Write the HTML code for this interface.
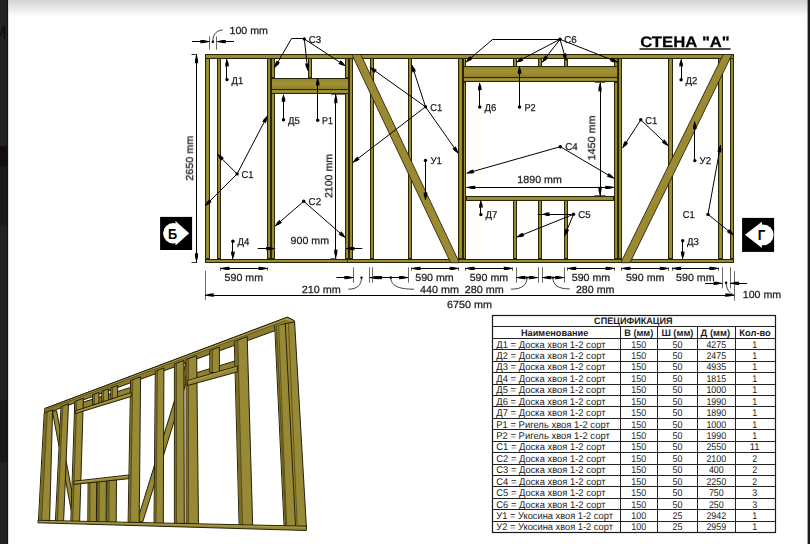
<!DOCTYPE html><html><head><meta charset="utf-8"><style>html,body{margin:0;padding:0;background:#fff;}body{width:810px;height:544px;overflow:hidden;}</style></head><body><svg width="810" height="544" viewBox="0 0 810 544" style="display:block;font-family:'Liberation Sans', sans-serif;text-rendering:geometricPrecision">
<defs><linearGradient id="tg" x1="0" y1="0" x2="0" y2="1"><stop offset="0" stop-color="#d4d4d4"/><stop offset="1" stop-color="#ffffff"/></linearGradient><filter id="gray" x="-5%" y="-20%" width="110%" height="140%"><feColorMatrix type="saturate" values="0"/></filter><linearGradient id="gv" x1="0" y1="0" x2="1" y2="0"><stop offset="0" stop-color="#8a7c2a"/><stop offset="0.5" stop-color="#a09233"/><stop offset="1" stop-color="#948630"/></linearGradient><linearGradient id="gh" x1="0" y1="0" x2="0" y2="1"><stop offset="0" stop-color="#94862e"/><stop offset="0.5" stop-color="#a09233"/><stop offset="1" stop-color="#8e802b"/></linearGradient></defs>
<rect x="0" y="0" width="810" height="544" fill="#fff"/>
<rect x="0" y="0" width="810" height="17" fill="url(#tg)"/>
<rect x="0" y="0" width="8" height="544" fill="#222"/>
<rect x="0" y="146" width="7" height="20" fill="#150d0b"/>
<rect x="0" y="166" width="7" height="60" fill="#1b1b1e"/>
<rect x="0" y="400" width="7" height="62" fill="#171717"/>
<rect x="7" y="0" width="1" height="544" fill="#111"/>
<path d="M0.2,35.5 L3.6,26.8 L4.4,26.8 L4.4,39" fill="none" stroke="#0b0b0b" stroke-width="1.3"/>
<rect x="8" y="0" width="1" height="544" fill="#bbb" opacity="0.5"/>
<rect x="807.6" y="0" width="2.4" height="544" fill="#1a1a1a"/>
<rect x="205" y="58" width="5" height="201" fill="#2b2608"/>
<rect x="206" y="59" width="3" height="199" fill="url(#gv)"/>
<rect x="217" y="58" width="4" height="201" fill="#2b2608"/>
<rect x="218" y="59" width="2" height="199" fill="url(#gv)"/>
<rect x="267" y="58" width="4" height="201" fill="#2b2608"/>
<rect x="268" y="59" width="2" height="199" fill="url(#gv)"/>
<rect x="349" y="58" width="4" height="201" fill="#2b2608"/>
<rect x="350" y="59" width="2" height="199" fill="url(#gv)"/>
<rect x="370" y="58" width="4" height="201" fill="#2b2608"/>
<rect x="371" y="59" width="2" height="199" fill="url(#gv)"/>
<rect x="408" y="58" width="4" height="201" fill="#2b2608"/>
<rect x="409" y="59" width="2" height="199" fill="url(#gv)"/>
<rect x="458" y="58" width="5" height="201" fill="#2b2608"/>
<rect x="459" y="59" width="3" height="199" fill="url(#gv)"/>
<rect x="618" y="58" width="4" height="201" fill="#2b2608"/>
<rect x="619" y="59" width="2" height="199" fill="url(#gv)"/>
<rect x="668" y="58" width="5" height="201" fill="#2b2608"/>
<rect x="669" y="59" width="3" height="199" fill="url(#gv)"/>
<rect x="718" y="58" width="5" height="201" fill="#2b2608"/>
<rect x="719" y="59" width="3" height="199" fill="url(#gv)"/>
<rect x="730" y="58" width="4" height="201" fill="#2b2608"/>
<rect x="731" y="59" width="2" height="199" fill="url(#gv)"/>
<rect x="271" y="93" width="4" height="166" fill="#2b2608"/>
<rect x="272" y="94" width="2" height="164" fill="url(#gv)"/>
<rect x="271" y="58" width="4" height="20" fill="#2b2608"/>
<rect x="272" y="59" width="2" height="18" fill="url(#gv)"/>
<rect x="345" y="93" width="4" height="166" fill="#2b2608"/>
<rect x="346" y="94" width="2" height="164" fill="url(#gv)"/>
<rect x="345" y="58" width="4" height="20" fill="#2b2608"/>
<rect x="346" y="59" width="2" height="18" fill="url(#gv)"/>
<rect x="308" y="58" width="4" height="20" fill="#2b2608"/>
<rect x="309" y="59" width="2" height="18" fill="url(#gv)"/>
<rect x="271" y="78" width="78" height="12" fill="#2b2608"/>
<rect x="272" y="79" width="76" height="10" fill="url(#gh)"/>
<rect x="271" y="89" width="78" height="5" fill="#2b2608"/>
<rect x="272" y="90" width="76" height="3" fill="url(#gh)"/>
<rect x="463" y="82" width="3" height="177" fill="#2b2608"/>
<rect x="464" y="83" width="1" height="175" fill="url(#gv)"/>
<rect x="463" y="58" width="3" height="9" fill="#2b2608"/>
<rect x="464" y="59" width="1" height="7" fill="url(#gv)"/>
<rect x="614" y="82" width="4" height="177" fill="#2b2608"/>
<rect x="615" y="83" width="2" height="175" fill="url(#gv)"/>
<rect x="614" y="58" width="4" height="9" fill="#2b2608"/>
<rect x="615" y="59" width="2" height="7" fill="url(#gv)"/>
<rect x="513" y="58" width="4" height="9" fill="#2b2608"/>
<rect x="514" y="59" width="2" height="7" fill="url(#gv)"/>
<rect x="513" y="200" width="4" height="59" fill="#2b2608"/>
<rect x="514" y="201" width="2" height="57" fill="url(#gv)"/>
<rect x="538" y="58" width="4" height="9" fill="#2b2608"/>
<rect x="539" y="59" width="2" height="7" fill="url(#gv)"/>
<rect x="538" y="200" width="4" height="59" fill="#2b2608"/>
<rect x="539" y="201" width="2" height="57" fill="url(#gv)"/>
<rect x="564" y="58" width="4" height="9" fill="#2b2608"/>
<rect x="565" y="59" width="2" height="7" fill="url(#gv)"/>
<rect x="564" y="200" width="4" height="59" fill="#2b2608"/>
<rect x="565" y="201" width="2" height="57" fill="url(#gv)"/>
<rect x="463" y="66" width="155" height="12" fill="#2b2608"/>
<rect x="464" y="67" width="153" height="10" fill="url(#gh)"/>
<rect x="463" y="77" width="155" height="5" fill="#2b2608"/>
<rect x="464" y="78" width="153" height="3" fill="url(#gh)"/>
<rect x="466" y="196" width="148" height="5" fill="#2b2608"/>
<rect x="467" y="197" width="146" height="3" fill="url(#gh)"/>
<rect x="205" y="54" width="529" height="5" fill="#2b2608"/>
<rect x="206" y="55" width="527" height="3" fill="url(#gh)"/>
<rect x="205" y="259" width="529" height="4" fill="#2b2608"/>
<rect x="206" y="260" width="527" height="2" fill="url(#gh)"/>
<line x1="347.5" y1="259" x2="347.5" y2="263" stroke="#2b2608" stroke-width="0.8"/>
<polygon points="351.9,54.5 360.8,54.5 459.4,262.7 450.6,262.7" fill="#9a8b33" stroke="#2b2608" stroke-width="0.9" stroke-linejoin="round" />
<polygon points="723.2,54.5 732,54.5 630,262.7 620.8,262.7" fill="#9a8b33" stroke="#2b2608" stroke-width="0.9" stroke-linejoin="round" />
<circle cx="227" cy="79.6" r="1.7" fill="#000"/>
<line x1="226.5" y1="79.6" x2="226.5" y2="59.2" stroke="#000" stroke-width="1.0"/>
<polygon points="227,59 227.55,60.33 228.71,63.7 228.8,66.7 227,66.1 225.2,66.7 225.29,63.7 226.45,60.33" fill="#000"/>
<text x="231.6" y="84" font-size="10.0" font-weight="normal" text-anchor="start" fill="#1a1a1a" textLength="11.5" lengthAdjust="spacingAndGlyphs"  filter="url(#gray)" stroke="#1a1a1a" stroke-width="0.25">Д1</text>
<circle cx="304.3" cy="38.9" r="1.7" fill="#000"/>
<line x1="304.3" y1="38.5" x2="291.3" y2="38.5" stroke="#000" stroke-width="1.0"/>
<line x1="291.3" y1="38.9" x2="274.6" y2="67.8" stroke="#000" stroke-width="1.0"/>
<polygon points="274.5,67.97 274.69,66.55 275.37,63.05 276.79,60.41 278.05,61.83 279.91,62.21 278.33,64.76 275.64,67.1" fill="#000"/>
<line x1="304.3" y1="38.9" x2="307.8" y2="70.6" stroke="#000" stroke-width="1.0"/>
<polygon points="307.82,70.8 307.13,69.54 305.61,66.31 305.19,63.34 307.04,63.74 308.77,62.95 309.01,65.94 308.22,69.42" fill="#000"/>
<line x1="304.3" y1="38.9" x2="345.5" y2="66" stroke="#000" stroke-width="1.0"/>
<polygon points="345.67,66.11 344.26,65.84 340.8,64.96 338.24,63.38 339.74,62.21 340.22,60.37 342.68,62.1 344.86,64.92" fill="#000"/>
<text x="308.7" y="42.8" font-size="10.0" font-weight="normal" text-anchor="start" fill="#1a1a1a" textLength="12.5" lengthAdjust="spacingAndGlyphs"  filter="url(#gray)" stroke="#1a1a1a" stroke-width="0.25">C3</text>
<circle cx="283.5" cy="119.8" r="1.7" fill="#000"/>
<line x1="283.5" y1="119.8" x2="283.5" y2="94.6" stroke="#000" stroke-width="1.0"/>
<polygon points="283.5,94.4 284.05,95.72 285.21,99.1 285.3,102.1 283.5,101.5 281.7,102.1 281.79,99.1 282.95,95.72" fill="#000"/>
<text x="288" y="123.7" font-size="10.0" font-weight="normal" text-anchor="start" fill="#1a1a1a" textLength="11.8" lengthAdjust="spacingAndGlyphs"  filter="url(#gray)" stroke="#1a1a1a" stroke-width="0.25">Д5</text>
<circle cx="317.7" cy="120.2" r="1.7" fill="#000"/>
<line x1="317.5" y1="120.2" x2="317.5" y2="78.2" stroke="#000" stroke-width="1.0"/>
<polygon points="317.7,78 318.25,79.33 319.41,82.7 319.5,85.7 317.7,85.1 315.9,85.7 315.99,82.7 317.15,79.33" fill="#000"/>
<text x="322.1" y="123.7" font-size="10.0" font-weight="normal" text-anchor="start" fill="#1a1a1a" textLength="10.8" lengthAdjust="spacingAndGlyphs"  filter="url(#gray)" stroke="#1a1a1a" stroke-width="0.25">P1</text>
<circle cx="237.1" cy="173.9" r="1.7" fill="#000"/>
<line x1="237.1" y1="173.9" x2="267.3" y2="116" stroke="#000" stroke-width="1.0"/>
<polygon points="267.39,115.82 267.27,117.25 266.74,120.78 265.43,123.48 264.11,122.12 262.24,121.82 263.7,119.2 266.29,116.74" fill="#000"/>
<line x1="237.1" y1="173.9" x2="217.4" y2="154.2" stroke="#000" stroke-width="1.0"/>
<polygon points="217.26,154.06 218.58,154.61 221.79,156.17 223.98,158.23 222.28,159.08 221.43,160.78 219.37,158.59 217.81,155.38" fill="#000"/>
<line x1="237.1" y1="173.9" x2="205.2" y2="205.8" stroke="#000" stroke-width="1.0"/>
<polygon points="205.06,205.94 205.61,204.62 207.17,201.41 209.23,199.22 210.08,200.92 211.78,201.77 209.59,203.83 206.38,205.39" fill="#000"/>
<text x="241.6" y="177.7" font-size="10.0" font-weight="normal" text-anchor="start" fill="#1a1a1a" textLength="12" lengthAdjust="spacingAndGlyphs"  filter="url(#gray)" stroke="#1a1a1a" stroke-width="0.25">C1</text>
<circle cx="303.7" cy="201.3" r="1.7" fill="#000"/>
<line x1="303.7" y1="201.3" x2="275.2" y2="226" stroke="#000" stroke-width="1.0"/>
<polygon points="275.05,226.13 275.69,224.85 277.48,221.76 279.69,219.73 280.41,221.48 282.05,222.45 279.72,224.35 276.41,225.68" fill="#000"/>
<line x1="303.7" y1="201.3" x2="345.3" y2="237.6" stroke="#000" stroke-width="1.0"/>
<polygon points="345.45,237.73 344.09,237.27 340.79,235.93 338.47,234.03 340.1,233.06 340.83,231.31 343.03,233.35 344.81,236.45" fill="#000"/>
<text x="308.6" y="204.6" font-size="10.0" font-weight="normal" text-anchor="start" fill="#1a1a1a" textLength="12.5" lengthAdjust="spacingAndGlyphs"  filter="url(#gray)" stroke="#1a1a1a" stroke-width="0.25">C2</text>
<circle cx="425.5" cy="106.8" r="1.7" fill="#000"/>
<line x1="425.5" y1="106.8" x2="369.8" y2="67.2" stroke="#000" stroke-width="1.0"/>
<polygon points="369.64,67.08 371.04,67.4 374.46,68.41 376.96,70.08 375.42,71.2 374.87,73.01 372.48,71.2 370.4,68.3" fill="#000"/>
<line x1="425.5" y1="106.8" x2="411.9" y2="65" stroke="#000" stroke-width="1.0"/>
<polygon points="411.84,64.81 412.77,65.9 414.92,68.75 415.93,71.58 414.03,71.56 412.51,72.69 411.67,69.81 411.73,66.24" fill="#000"/>
<line x1="425.5" y1="106.8" x2="458.2" y2="153.4" stroke="#000" stroke-width="1.0"/>
<polygon points="458.31,153.56 457.1,152.8 454.22,150.7 452.42,148.29 454.24,147.75 455.37,146.23 457.01,148.73 458,152.16" fill="#000"/>
<line x1="425.5" y1="106.8" x2="352.8" y2="162.5" stroke="#000" stroke-width="1.0"/>
<polygon points="352.64,162.62 353.36,161.38 355.33,158.41 357.66,156.51 358.28,158.3 359.85,159.37 357.41,161.12 354.03,162.25" fill="#000"/>
<text x="430.2" y="110.6" font-size="10.0" font-weight="normal" text-anchor="start" fill="#1a1a1a" textLength="12" lengthAdjust="spacingAndGlyphs"  filter="url(#gray)" stroke="#1a1a1a" stroke-width="0.25">C1</text>
<circle cx="425.5" cy="160.4" r="1.7" fill="#000"/>
<line x1="425.5" y1="160.4" x2="425.5" y2="199.8" stroke="#000" stroke-width="1.0"/>
<polygon points="425.5,200 424.95,198.68 423.79,195.3 423.7,192.3 425.5,192.9 427.3,192.3 427.21,195.3 426.05,198.68" fill="#000"/>
<text x="430.4" y="163.8" font-size="10.0" font-weight="normal" text-anchor="start" fill="#1a1a1a" textLength="11.5" lengthAdjust="spacingAndGlyphs"  filter="url(#gray)" stroke="#1a1a1a" stroke-width="0.25">У1</text>
<circle cx="479.8" cy="107" r="1.7" fill="#000"/>
<line x1="479.5" y1="107" x2="479.5" y2="82.9" stroke="#000" stroke-width="1.0"/>
<polygon points="479.8,82.7 480.35,84.03 481.51,87.4 481.6,90.4 479.8,89.8 478,90.4 478.09,87.4 479.25,84.03" fill="#000"/>
<text x="484.6" y="111" font-size="10.0" font-weight="normal" text-anchor="start" fill="#1a1a1a" textLength="11.8" lengthAdjust="spacingAndGlyphs"  filter="url(#gray)" stroke="#1a1a1a" stroke-width="0.25">Д6</text>
<circle cx="519.5" cy="107" r="1.7" fill="#000"/>
<line x1="519.5" y1="107" x2="519.5" y2="66.6" stroke="#000" stroke-width="1.0"/>
<polygon points="519.5,66.4 520.05,67.72 521.21,71.1 521.3,74.1 519.5,73.5 517.7,74.1 517.79,71.1 518.95,67.72" fill="#000"/>
<text x="524.5" y="111" font-size="10.0" font-weight="normal" text-anchor="start" fill="#1a1a1a" textLength="11.2" lengthAdjust="spacingAndGlyphs"  filter="url(#gray)" stroke="#1a1a1a" stroke-width="0.25">P2</text>
<circle cx="560" cy="39.3" r="1.7" fill="#000"/>
<line x1="560" y1="39.5" x2="492.8" y2="39.5" stroke="#000" stroke-width="1.0"/>
<line x1="492.8" y1="39.3" x2="465.8" y2="62.2" stroke="#000" stroke-width="1.0"/>
<polygon points="465.65,62.33 466.3,61.05 468.13,57.99 470.36,55.98 471.06,57.74 472.68,58.72 470.34,60.59 467.01,61.89" fill="#000"/>
<line x1="560" y1="39.3" x2="516.2" y2="62.2" stroke="#000" stroke-width="1.0"/>
<polygon points="516.02,62.29 516.94,61.19 519.4,58.6 522.01,57.13 522.31,59 523.68,60.32 520.98,61.63 517.45,62.17" fill="#000"/>
<line x1="560" y1="39.3" x2="542.2" y2="62.4" stroke="#000" stroke-width="1.0"/>
<polygon points="542.08,62.56 542.45,61.17 543.59,57.79 545.35,55.36 546.41,56.93 548.2,57.56 546.3,59.88 543.32,61.84" fill="#000"/>
<line x1="560" y1="39.3" x2="566.2" y2="60.6" stroke="#000" stroke-width="1.0"/>
<polygon points="566.26,60.79 565.36,59.67 563.3,56.76 562.38,53.9 564.27,53.97 565.83,52.9 566.58,55.8 566.41,59.37" fill="#000"/>
<line x1="560" y1="39.3" x2="617.6" y2="62.2" stroke="#000" stroke-width="1.0"/>
<polygon points="617.79,62.27 616.35,62.3 612.79,62.13 609.97,61.1 611.19,59.65 611.3,57.76 614.05,58.95 616.76,61.27" fill="#000"/>
<text x="564.3" y="43.1" font-size="10.0" font-weight="normal" text-anchor="start" fill="#1a1a1a" textLength="12.5" lengthAdjust="spacingAndGlyphs"  filter="url(#gray)" stroke="#1a1a1a" stroke-width="0.25">C6</text>
<circle cx="560.3" cy="146.7" r="1.7" fill="#000"/>
<line x1="560.3" y1="146.7" x2="466.8" y2="173.2" stroke="#000" stroke-width="1.0"/>
<polygon points="466.61,173.25 467.73,172.36 470.66,170.33 473.52,169.42 473.44,171.32 474.51,172.89 471.6,173.62 468.03,173.42" fill="#000"/>
<line x1="560.3" y1="146.7" x2="614" y2="178.4" stroke="#000" stroke-width="1.0"/>
<polygon points="614.17,178.5 612.75,178.3 609.26,177.58 606.63,176.14 608.06,174.89 608.46,173.04 610.99,174.64 613.31,177.35" fill="#000"/>
<text x="565.2" y="150.4" font-size="10.0" font-weight="normal" text-anchor="start" fill="#1a1a1a" textLength="12.5" lengthAdjust="spacingAndGlyphs"  filter="url(#gray)" stroke="#1a1a1a" stroke-width="0.25">C4</text>
<circle cx="480.9" cy="214.6" r="1.7" fill="#000"/>
<line x1="480.5" y1="214.6" x2="480.5" y2="200.4" stroke="#000" stroke-width="1.0"/>
<polygon points="480.9,200.2 481.45,201.53 482.61,204.9 482.7,207.9 480.9,207.3 479.1,207.9 479.19,204.9 480.35,201.53" fill="#000"/>
<text x="485.6" y="217.8" font-size="10.0" font-weight="normal" text-anchor="start" fill="#1a1a1a" textLength="11.8" lengthAdjust="spacingAndGlyphs"  filter="url(#gray)" stroke="#1a1a1a" stroke-width="0.25">Д7</text>
<circle cx="573.5" cy="214.3" r="1.7" fill="#000"/>
<line x1="573.5" y1="214.5" x2="537.8" y2="214.5" stroke="#000" stroke-width="1.0"/>
<polygon points="542.2,214.3 543.52,213.75 546.9,212.59 549.9,212.5 549.3,214.3 549.9,216.1 546.9,216.01 543.52,214.85" fill="#000"/>
<line x1="573.5" y1="214.3" x2="516.8" y2="237.1" stroke="#000" stroke-width="1.0"/>
<polygon points="516.61,237.17 517.64,236.17 520.34,233.83 523.09,232.63 523.2,234.53 524.43,235.97 521.61,237.01 518.05,237.19" fill="#000"/>
<line x1="573.5" y1="214.3" x2="564.6" y2="235.8" stroke="#000" stroke-width="1.0"/>
<polygon points="564.52,235.98 564.52,234.55 564.74,230.99 565.81,228.18 567.24,229.42 569.13,229.56 567.9,232.3 565.54,234.97" fill="#000"/>
<text x="578.2" y="218" font-size="10.0" font-weight="normal" text-anchor="start" fill="#1a1a1a" textLength="12.5" lengthAdjust="spacingAndGlyphs"  filter="url(#gray)" stroke="#1a1a1a" stroke-width="0.25">C5</text>
<circle cx="640.8" cy="119.8" r="1.7" fill="#000"/>
<line x1="640.8" y1="119.8" x2="622.6" y2="148" stroke="#000" stroke-width="1.0"/>
<polygon points="622.49,148.17 622.75,146.76 623.6,143.29 625.15,140.72 626.34,142.2 628.18,142.67 626.48,145.15 623.67,147.35" fill="#000"/>
<line x1="640.8" y1="119.8" x2="668.3" y2="145.8" stroke="#000" stroke-width="1.0"/>
<polygon points="668.45,145.94 667.1,145.43 663.86,143.95 661.61,141.96 663.29,141.06 664.09,139.34 666.2,141.47 667.86,144.63" fill="#000"/>
<text x="645.2" y="123.8" font-size="10.0" font-weight="normal" text-anchor="start" fill="#1a1a1a" textLength="12" lengthAdjust="spacingAndGlyphs"  filter="url(#gray)" stroke="#1a1a1a" stroke-width="0.25">C1</text>
<circle cx="681.1" cy="79.7" r="1.7" fill="#000"/>
<line x1="681.5" y1="79.7" x2="681.5" y2="59.2" stroke="#000" stroke-width="1.0"/>
<polygon points="681.1,59 681.65,60.33 682.81,63.7 682.9,66.7 681.1,66.1 679.3,66.7 679.39,63.7 680.55,60.33" fill="#000"/>
<text x="685.5" y="83.7" font-size="10.0" font-weight="normal" text-anchor="start" fill="#1a1a1a" textLength="11.8" lengthAdjust="spacingAndGlyphs"  filter="url(#gray)" stroke="#1a1a1a" stroke-width="0.25">Д2</text>
<circle cx="694.8" cy="160.6" r="1.7" fill="#000"/>
<line x1="694.5" y1="160.6" x2="694.5" y2="121.6" stroke="#000" stroke-width="1.0"/>
<polygon points="694.8,121.4 695.35,122.72 696.51,126.1 696.6,129.1 694.8,128.5 693,129.1 693.09,126.1 694.25,122.72" fill="#000"/>
<text x="699.6" y="163.8" font-size="10.0" font-weight="normal" text-anchor="start" fill="#1a1a1a" textLength="11.5" lengthAdjust="spacingAndGlyphs"  filter="url(#gray)" stroke="#1a1a1a" stroke-width="0.25">У2</text>
<circle cx="708" cy="214.4" r="1.7" fill="#000"/>
<line x1="708" y1="214.4" x2="720.6" y2="145" stroke="#000" stroke-width="1.0"/>
<polygon points="720.64,144.8 720.94,146.21 721.48,149.73 721.03,152.7 719.37,151.79 717.49,152.06 718.11,149.12 719.86,146.01" fill="#000"/>
<line x1="708" y1="214.4" x2="733.6" y2="235" stroke="#000" stroke-width="1.0"/>
<polygon points="733.76,235.13 732.38,234.72 729.02,233.51 726.63,231.7 728.22,230.67 728.89,228.9 731.17,230.85 733.07,233.87" fill="#000"/>
<text x="682.7" y="218" font-size="10.0" font-weight="normal" text-anchor="start" fill="#1a1a1a" textLength="12" lengthAdjust="spacingAndGlyphs"  filter="url(#gray)" stroke="#1a1a1a" stroke-width="0.25">C1</text>
<circle cx="682.7" cy="240.8" r="1.7" fill="#000"/>
<line x1="682.5" y1="240.8" x2="682.5" y2="258.8" stroke="#000" stroke-width="1.0"/>
<polygon points="682.7,259 682.15,257.68 680.99,254.3 680.9,251.3 682.7,251.9 684.5,251.3 684.41,254.3 683.25,257.68" fill="#000"/>
<text x="687" y="245.2" font-size="10.0" font-weight="normal" text-anchor="start" fill="#1a1a1a" textLength="11.8" lengthAdjust="spacingAndGlyphs"  filter="url(#gray)" stroke="#1a1a1a" stroke-width="0.25">Д3</text>
<circle cx="232.9" cy="241.2" r="1.7" fill="#000"/>
<line x1="232.5" y1="241.2" x2="232.5" y2="258.8" stroke="#000" stroke-width="1.0"/>
<polygon points="232.9,259 232.35,257.68 231.19,254.3 231.1,251.3 232.9,251.9 234.7,251.3 234.61,254.3 233.45,257.68" fill="#000"/>
<text x="237.5" y="245" font-size="10.0" font-weight="normal" text-anchor="start" fill="#1a1a1a" textLength="11.8" lengthAdjust="spacingAndGlyphs"  filter="url(#gray)" stroke="#1a1a1a" stroke-width="0.25">Д4</text>
<line x1="209.5" y1="36.4" x2="209.5" y2="49.7" stroke="#444" stroke-width="0.8"/>
<line x1="216.5" y1="36.4" x2="216.5" y2="49.7" stroke="#444" stroke-width="0.8"/>
<line x1="192" y1="41.5" x2="209.3" y2="41.5" stroke="#000" stroke-width="1.0"/>
<polygon points="209.5,41.6 207.92,42.15 203.78,43.12 200.1,43.2 200.84,41.6 200.1,40 203.78,40.08 207.92,41.05" fill="#000"/>
<line x1="234" y1="41.5" x2="216.9" y2="41.5" stroke="#000" stroke-width="1.0"/>
<polygon points="216.7,41.6 218.28,41.05 222.42,40.08 226.1,40 225.36,41.6 226.1,43.2 222.42,43.12 218.28,42.15" fill="#000"/>
<circle cx="212.9" cy="41.8" r="1.2" fill="#000"/>
<path d="M212.9,41.8 C212.6,35 216,30.5 222.6,29.9" fill="none" stroke="#111" stroke-width="0.8"/>
<text x="229.5" y="33.9" font-size="10.3" font-weight="normal" text-anchor="start" fill="#222" textLength="38.5" lengthAdjust="spacingAndGlyphs"  filter="url(#gray)" stroke="#222" stroke-width="0.25">100 mm</text>
<line x1="191.5" y1="54.5" x2="197.2" y2="54.5" stroke="#000" stroke-width="0.8"/>
<line x1="191.5" y1="262.5" x2="197.2" y2="262.5" stroke="#000" stroke-width="0.8"/>
<line x1="196.5" y1="54.4" x2="196.5" y2="262.2" stroke="#000" stroke-width="1.0"/>
<polygon points="196.5,54.2 197.05,55.78 198.02,59.92 198.1,63.6 196.5,62.86 194.9,63.6 194.98,59.92 195.95,55.78" fill="#000"/>
<polygon points="196.5,262.4 195.95,260.82 194.98,256.68 194.9,253 196.5,253.74 198.1,253 198.02,256.68 197.05,260.82" fill="#000"/>
<text transform="translate(193,158.3) rotate(-90)" x="0" y="0" font-size="10.3" text-anchor="middle" fill="#222" textLength="45" lengthAdjust="spacingAndGlyphs" filter="url(#gray)" stroke="#222" stroke-width="0.25">2650 mm</text>
<line x1="331" y1="94.5" x2="345.3" y2="94.5" stroke="#444" stroke-width="0.8"/>
<line x1="330.4" y1="258.5" x2="336.6" y2="258.5" stroke="#444" stroke-width="0.8"/>
<line x1="335.5" y1="94.2" x2="335.5" y2="258.4" stroke="#000" stroke-width="1.0"/>
<polygon points="335.8,94 336.35,95.58 337.32,99.72 337.4,103.4 335.8,102.66 334.2,103.4 334.28,99.72 335.25,95.58" fill="#000"/>
<polygon points="335.8,258.6 335.25,257.02 334.28,252.88 334.2,249.2 335.8,249.94 337.4,249.2 337.32,252.88 336.35,257.02" fill="#000"/>
<text transform="translate(332.2,176) rotate(-90)" x="0" y="0" font-size="10.3" text-anchor="middle" fill="#222" textLength="44" lengthAdjust="spacingAndGlyphs" filter="url(#gray)" stroke="#222" stroke-width="0.25">2100 mm</text>
<line x1="257.7" y1="248.5" x2="275.2" y2="248.5" stroke="#000" stroke-width="1.0"/>
<polygon points="275.2,248.6 273.62,249.15 269.48,250.12 265.8,250.2 266.54,248.6 265.8,247 269.48,247.08 273.62,248.05" fill="#000"/>
<line x1="362.3" y1="248.5" x2="345.4" y2="248.5" stroke="#000" stroke-width="1.0"/>
<polygon points="345.3,248.6 346.88,248.05 351.02,247.08 354.7,247 353.96,248.6 354.7,250.2 351.02,250.12 346.88,249.15" fill="#000"/>
<line x1="274.5" y1="244.5" x2="274.5" y2="249.3" stroke="#444" stroke-width="0.8"/>
<line x1="345.5" y1="244.5" x2="345.5" y2="249.3" stroke="#444" stroke-width="0.8"/>
<text x="290.6" y="243.8" font-size="10.3" font-weight="normal" text-anchor="start" fill="#222" textLength="38.4" lengthAdjust="spacingAndGlyphs"  filter="url(#gray)" stroke="#222" stroke-width="0.25">900 mm</text>
<line x1="466.4" y1="187.5" x2="614.2" y2="187.5" stroke="#000" stroke-width="1.0"/>
<polygon points="466.2,187.4 467.78,186.85 471.92,185.88 475.6,185.8 474.86,187.4 475.6,189 471.92,188.92 467.78,187.95" fill="#000"/>
<polygon points="614.4,187.4 612.82,187.95 608.68,188.92 605,189 605.74,187.4 605,185.8 608.68,185.88 612.82,186.85" fill="#000"/>
<text x="539.6" y="182.8" font-size="10.3" font-weight="normal" text-anchor="middle" fill="#222" textLength="44.5" lengthAdjust="spacingAndGlyphs"  filter="url(#gray)" stroke="#222" stroke-width="0.25">1890 mm</text>
<line x1="594.8" y1="82.5" x2="605.3" y2="82.5" stroke="#444" stroke-width="0.8"/>
<line x1="594.3" y1="195.5" x2="605.3" y2="195.5" stroke="#444" stroke-width="0.8"/>
<line x1="600.5" y1="82.6" x2="600.5" y2="195.8" stroke="#000" stroke-width="1.0"/>
<polygon points="600,82.4 600.55,83.98 601.52,88.12 601.6,91.8 600,91.06 598.4,91.8 598.48,88.12 599.45,83.98" fill="#000"/>
<polygon points="600,196 599.45,194.42 598.48,190.28 598.4,186.6 600,187.34 601.6,186.6 601.52,190.28 600.55,194.42" fill="#000"/>
<text transform="translate(595.1,137.9) rotate(-90)" x="0" y="0" font-size="10.3" text-anchor="middle" fill="#222" textLength="45.2" lengthAdjust="spacingAndGlyphs" filter="url(#gray)" stroke="#222" stroke-width="0.25">1450 mm</text>
<line x1="220.5" y1="267.3" x2="220.5" y2="270.9" stroke="#444" stroke-width="0.8"/>
<line x1="267.5" y1="267.3" x2="267.5" y2="270.9" stroke="#444" stroke-width="0.8"/>
<line x1="220.6" y1="268.5" x2="267.5" y2="268.5" stroke="#000" stroke-width="1.0"/>
<polygon points="220.4,268.4 221.98,267.85 226.12,266.88 229.8,266.8 229.06,268.4 229.8,270 226.12,269.92 221.98,268.95" fill="#000"/>
<polygon points="267.7,268.4 266.12,268.95 261.98,269.92 258.3,270 259.04,268.4 258.3,266.8 261.98,266.88 266.12,267.85" fill="#000"/>
<text x="243.8" y="281" font-size="10.3" font-weight="normal" text-anchor="middle" fill="#222" textLength="38.5" lengthAdjust="spacingAndGlyphs"  filter="url(#gray)" stroke="#222" stroke-width="0.25">590 mm</text>
<line x1="411.5" y1="267.3" x2="411.5" y2="270.9" stroke="#444" stroke-width="0.8"/>
<line x1="458.5" y1="267.3" x2="458.5" y2="270.9" stroke="#444" stroke-width="0.8"/>
<line x1="411.6" y1="268.5" x2="458.6" y2="268.5" stroke="#000" stroke-width="1.0"/>
<polygon points="411.4,268.4 412.98,267.85 417.12,266.88 420.8,266.8 420.06,268.4 420.8,270 417.12,269.92 412.98,268.95" fill="#000"/>
<polygon points="458.8,268.4 457.22,268.95 453.08,269.92 449.4,270 450.14,268.4 449.4,266.8 453.08,266.88 457.22,267.85" fill="#000"/>
<text x="434.5" y="281" font-size="10.3" font-weight="normal" text-anchor="middle" fill="#222" textLength="38.5" lengthAdjust="spacingAndGlyphs"  filter="url(#gray)" stroke="#222" stroke-width="0.25">590 mm</text>
<line x1="465.5" y1="267.3" x2="465.5" y2="270.9" stroke="#444" stroke-width="0.8"/>
<line x1="512.5" y1="267.3" x2="512.5" y2="270.9" stroke="#444" stroke-width="0.8"/>
<line x1="465.7" y1="268.5" x2="512.6" y2="268.5" stroke="#000" stroke-width="1.0"/>
<polygon points="465.5,268.4 467.08,267.85 471.22,266.88 474.9,266.8 474.16,268.4 474.9,270 471.22,269.92 467.08,268.95" fill="#000"/>
<polygon points="512.8,268.4 511.22,268.95 507.08,269.92 503.4,270 504.14,268.4 503.4,266.8 507.08,266.88 511.22,267.85" fill="#000"/>
<text x="488.9" y="281" font-size="10.3" font-weight="normal" text-anchor="middle" fill="#222" textLength="38.5" lengthAdjust="spacingAndGlyphs"  filter="url(#gray)" stroke="#222" stroke-width="0.25">590 mm</text>
<line x1="567.5" y1="267.3" x2="567.5" y2="270.9" stroke="#444" stroke-width="0.8"/>
<line x1="614.5" y1="267.3" x2="614.5" y2="270.9" stroke="#444" stroke-width="0.8"/>
<line x1="567.4" y1="268.5" x2="614.5" y2="268.5" stroke="#000" stroke-width="1.0"/>
<polygon points="567.2,268.4 568.78,267.85 572.92,266.88 576.6,266.8 575.86,268.4 576.6,270 572.92,269.92 568.78,268.95" fill="#000"/>
<polygon points="614.7,268.4 613.12,268.95 608.98,269.92 605.3,270 606.04,268.4 605.3,266.8 608.98,266.88 613.12,267.85" fill="#000"/>
<text x="591" y="281" font-size="10.3" font-weight="normal" text-anchor="middle" fill="#222" textLength="38.5" lengthAdjust="spacingAndGlyphs"  filter="url(#gray)" stroke="#222" stroke-width="0.25">590 mm</text>
<line x1="621.5" y1="267.3" x2="621.5" y2="270.9" stroke="#444" stroke-width="0.8"/>
<line x1="668.5" y1="267.3" x2="668.5" y2="270.9" stroke="#444" stroke-width="0.8"/>
<line x1="621.6" y1="268.5" x2="668.7" y2="268.5" stroke="#000" stroke-width="1.0"/>
<polygon points="621.4,268.4 622.98,267.85 627.12,266.88 630.8,266.8 630.06,268.4 630.8,270 627.12,269.92 622.98,268.95" fill="#000"/>
<polygon points="668.9,268.4 667.32,268.95 663.18,269.92 659.5,270 660.24,268.4 659.5,266.8 663.18,266.88 667.32,267.85" fill="#000"/>
<text x="645.2" y="281" font-size="10.3" font-weight="normal" text-anchor="middle" fill="#222" textLength="38.5" lengthAdjust="spacingAndGlyphs"  filter="url(#gray)" stroke="#222" stroke-width="0.25">590 mm</text>
<line x1="672.5" y1="267.3" x2="672.5" y2="270.9" stroke="#444" stroke-width="0.8"/>
<line x1="718.5" y1="267.3" x2="718.5" y2="270.9" stroke="#444" stroke-width="0.8"/>
<line x1="672.2" y1="268.5" x2="718.4" y2="268.5" stroke="#000" stroke-width="1.0"/>
<polygon points="672,268.4 673.58,267.85 677.72,266.88 681.4,266.8 680.66,268.4 681.4,270 677.72,269.92 673.58,268.95" fill="#000"/>
<polygon points="718.6,268.4 717.02,268.95 712.88,269.92 709.2,270 709.94,268.4 709.2,266.8 712.88,266.88 717.02,267.85" fill="#000"/>
<text x="695.3" y="281" font-size="10.3" font-weight="normal" text-anchor="middle" fill="#222" textLength="38.5" lengthAdjust="spacingAndGlyphs"  filter="url(#gray)" stroke="#222" stroke-width="0.25">590 mm</text>
<line x1="353.5" y1="267.3" x2="353.5" y2="282.7" stroke="#444" stroke-width="0.8"/>
<line x1="369.5" y1="267.3" x2="369.5" y2="282.7" stroke="#444" stroke-width="0.8"/>
<line x1="336.5" y1="277.5" x2="353.3" y2="277.5" stroke="#000" stroke-width="1.0"/>
<polygon points="353.5,277.6 351.92,278.15 347.78,279.12 344.1,279.2 344.84,277.6 344.1,276 347.78,276.08 351.92,277.05" fill="#000"/>
<line x1="369.6" y1="277.5" x2="384" y2="277.5" stroke="#000" stroke-width="1.0"/>
<polygon points="369.4,277.6 370.98,277.05 375.12,276.08 378.8,276 378.06,277.6 378.8,279.2 375.12,279.12 370.98,278.15" fill="#000"/>
<circle cx="361.5" cy="277.6" r="1.2" fill="#000"/>
<path d="M361.5,277.6 C361.5,285 357,289.2 348.3,289.2" fill="none" stroke="#111" stroke-width="0.8"/>
<text x="321.2" y="293" font-size="10.3" font-weight="normal" text-anchor="middle" fill="#222" textLength="39.1" lengthAdjust="spacingAndGlyphs"  filter="url(#gray)" stroke="#222" stroke-width="0.25">210 mm</text>
<line x1="372.5" y1="267.3" x2="372.5" y2="282.7" stroke="#444" stroke-width="0.8"/>
<line x1="408.5" y1="267.3" x2="408.5" y2="282.7" stroke="#444" stroke-width="0.8"/>
<line x1="373" y1="277.5" x2="408.1" y2="277.5" stroke="#000" stroke-width="1.0"/>
<polygon points="372.8,277.6 374.38,277.05 378.52,276.08 382.2,276 381.46,277.6 382.2,279.2 378.52,279.12 374.38,278.15" fill="#000"/>
<polygon points="408.3,277.6 406.72,278.15 402.58,279.12 398.9,279.2 399.64,277.6 398.9,276 402.58,276.08 406.72,277.05" fill="#000"/>
<circle cx="390.8" cy="277.6" r="1.3" fill="#000"/>
<path d="M390.8,277.6 C391,285 397,289.2 414,289.2" fill="none" stroke="#111" stroke-width="0.8"/>
<text x="439.4" y="292.8" font-size="10.3" font-weight="normal" text-anchor="middle" fill="#222" textLength="39" lengthAdjust="spacingAndGlyphs"  filter="url(#gray)" stroke="#222" stroke-width="0.25">440 mm</text>
<line x1="516.5" y1="267.3" x2="516.5" y2="282.7" stroke="#444" stroke-width="0.8"/>
<line x1="538.5" y1="267.3" x2="538.5" y2="282.7" stroke="#444" stroke-width="0.8"/>
<line x1="516.2" y1="277.5" x2="538.1" y2="277.5" stroke="#000" stroke-width="1.0"/>
<polygon points="516.4,277.6 517.98,277.05 522.12,276.08 525.8,276 525.06,277.6 525.8,279.2 522.12,279.12 517.98,278.15" fill="#000"/>
<polygon points="537.9,277.6 536.32,278.15 532.18,279.12 528.5,279.2 529.24,277.6 528.5,276 532.18,276.08 536.32,277.05" fill="#000"/>
<circle cx="526.9" cy="277.6" r="1.2" fill="#000"/>
<path d="M526.9,277.6 C527,285 522,289.2 510.9,289.2" fill="none" stroke="#111" stroke-width="0.8"/>
<text x="484.2" y="293" font-size="10.3" font-weight="normal" text-anchor="middle" fill="#222" textLength="39" lengthAdjust="spacingAndGlyphs"  filter="url(#gray)" stroke="#222" stroke-width="0.25">280 mm</text>
<line x1="542.5" y1="267.3" x2="542.5" y2="282.7" stroke="#444" stroke-width="0.8"/>
<line x1="564.5" y1="267.3" x2="564.5" y2="282.7" stroke="#444" stroke-width="0.8"/>
<line x1="542" y1="277.5" x2="564.3" y2="277.5" stroke="#000" stroke-width="1.0"/>
<polygon points="542.2,277.6 543.78,277.05 547.92,276.08 551.6,276 550.86,277.6 551.6,279.2 547.92,279.12 543.78,278.15" fill="#000"/>
<polygon points="564.1,277.6 562.52,278.15 558.38,279.12 554.7,279.2 555.44,277.6 554.7,276 558.38,276.08 562.52,277.05" fill="#000"/>
<circle cx="552.9" cy="277.6" r="1.2" fill="#000"/>
<path d="M552.9,277.6 C553,285 558,289 569.7,288.9" fill="none" stroke="#111" stroke-width="0.8"/>
<text x="595.2" y="292.8" font-size="10.3" font-weight="normal" text-anchor="middle" fill="#222" textLength="38.5" lengthAdjust="spacingAndGlyphs"  filter="url(#gray)" stroke="#222" stroke-width="0.25">280 mm</text>
<line x1="722.5" y1="267.2" x2="722.5" y2="288.3" stroke="#444" stroke-width="0.8"/>
<line x1="730.5" y1="267.2" x2="730.5" y2="288.3" stroke="#444" stroke-width="0.8"/>
<line x1="734.5" y1="271.1" x2="734.5" y2="300.6" stroke="#444" stroke-width="0.8"/>
<line x1="705" y1="283.5" x2="722.4" y2="283.5" stroke="#000" stroke-width="1.0"/>
<polygon points="722.6,283.3 721.02,283.85 716.88,284.82 713.2,284.9 713.94,283.3 713.2,281.7 716.88,281.78 721.02,282.75" fill="#000"/>
<line x1="747.2" y1="283.5" x2="730.2" y2="283.5" stroke="#000" stroke-width="1.0"/>
<polygon points="730,283.3 731.58,282.75 735.72,281.78 739.4,281.7 738.66,283.3 739.4,284.9 735.72,284.82 731.58,283.85" fill="#000"/>
<circle cx="726.1" cy="282.8" r="1.2" fill="#000"/>
<path d="M726.1,282.8 C726.5,289 729,293 733.3,294.4" fill="none" stroke="#111" stroke-width="0.8"/>
<text x="742.8" y="297.8" font-size="10.3" font-weight="normal" text-anchor="start" fill="#222" textLength="38.3" lengthAdjust="spacingAndGlyphs"  filter="url(#gray)" stroke="#222" stroke-width="0.25">100 mm</text>
<line x1="205.5" y1="270.8" x2="205.5" y2="299.9" stroke="#444" stroke-width="0.8"/>
<line x1="205.1" y1="295.5" x2="734.1" y2="295.5" stroke="#000" stroke-width="1.0"/>
<polygon points="204.9,295.1 206.48,294.55 210.62,293.58 214.3,293.5 213.56,295.1 214.3,296.7 210.62,296.62 206.48,295.65" fill="#000"/>
<polygon points="734.3,295.1 732.72,295.65 728.58,296.62 724.9,296.7 725.64,295.1 724.9,293.5 728.58,293.58 732.72,294.55" fill="#000"/>
<text x="469.4" y="307.8" font-size="10.3" font-weight="normal" text-anchor="middle" fill="#222" textLength="45" lengthAdjust="spacingAndGlyphs"  filter="url(#gray)" stroke="#222" stroke-width="0.25">6750 mm</text>
<text x="640.2" y="47.4" font-size="15.1" font-weight="bold" text-anchor="start" fill="#000" textLength="89.6" lengthAdjust="spacingAndGlyphs"  filter="url(#gray)" stroke="#000" stroke-width="0.25">СТЕНА "А"</text>
<rect x="639.5" y="48.3" width="91" height="1.4" fill="#000"/>
<rect x="160.1" y="216.9" width="32.0" height="33.099999999999994" fill="#000"/>
<circle cx="173.4" cy="233.2" r="10.3" fill="#fff"/>
<polygon points="175.5,221.0 189.2,233.2 175.5,245.6" fill="#fff"/>
<text x="167.9" y="238.7" font-size="14.5" font-weight="bold" fill="#000" textLength="9.2" lengthAdjust="spacingAndGlyphs">Б</text>
<rect x="742.1" y="217.9" width="32.0" height="34.0" fill="#000"/>
<circle cx="763.2" cy="234.8" r="10.4" fill="#fff"/>
<polygon points="761.9,221.8 745.0,234.8 761.9,248.0" fill="#fff"/>
<text x="757.8" y="239.8" font-size="14.5" font-weight="bold" fill="#000" textLength="7.6" lengthAdjust="spacingAndGlyphs">Г</text>
<rect x="492.5" y="315.5" width="283" height="217" fill="#fff" stroke="#1a1a1a" stroke-width="1.2"/>
<line x1="492.5" y1="326.5" x2="775.5" y2="326.5" stroke="#222" stroke-width="1"/>
<line x1="492.5" y1="338.5" x2="775.5" y2="338.5" stroke="#222" stroke-width="1"/>
<line x1="492.5" y1="349.5" x2="775.5" y2="349.5" stroke="#222" stroke-width="1"/>
<line x1="492.5" y1="361.5" x2="775.5" y2="361.5" stroke="#222" stroke-width="1"/>
<line x1="492.5" y1="372.5" x2="775.5" y2="372.5" stroke="#222" stroke-width="1"/>
<line x1="492.5" y1="384.5" x2="775.5" y2="384.5" stroke="#222" stroke-width="1"/>
<line x1="492.5" y1="395.5" x2="775.5" y2="395.5" stroke="#222" stroke-width="1"/>
<line x1="492.5" y1="406.5" x2="775.5" y2="406.5" stroke="#222" stroke-width="1"/>
<line x1="492.5" y1="418.5" x2="775.5" y2="418.5" stroke="#222" stroke-width="1"/>
<line x1="492.5" y1="429.5" x2="775.5" y2="429.5" stroke="#222" stroke-width="1"/>
<line x1="492.5" y1="441.5" x2="775.5" y2="441.5" stroke="#222" stroke-width="1"/>
<line x1="492.5" y1="452.5" x2="775.5" y2="452.5" stroke="#222" stroke-width="1"/>
<line x1="492.5" y1="464.5" x2="775.5" y2="464.5" stroke="#222" stroke-width="1"/>
<line x1="492.5" y1="475.5" x2="775.5" y2="475.5" stroke="#222" stroke-width="1"/>
<line x1="492.5" y1="486.5" x2="775.5" y2="486.5" stroke="#222" stroke-width="1"/>
<line x1="492.5" y1="498.5" x2="775.5" y2="498.5" stroke="#222" stroke-width="1"/>
<line x1="492.5" y1="509.5" x2="775.5" y2="509.5" stroke="#222" stroke-width="1"/>
<line x1="492.5" y1="521.5" x2="775.5" y2="521.5" stroke="#222" stroke-width="1"/>
<line x1="620.5" y1="326.5" x2="620.5" y2="532.5" stroke="#222" stroke-width="1"/>
<line x1="657.5" y1="326.5" x2="657.5" y2="532.5" stroke="#222" stroke-width="1"/>
<line x1="697.5" y1="326.5" x2="697.5" y2="532.5" stroke="#222" stroke-width="1"/>
<line x1="735.5" y1="326.5" x2="735.5" y2="532.5" stroke="#222" stroke-width="1"/>
<text x="633.3" y="324.1" font-size="9.3" font-weight="bold" text-anchor="middle" fill="#1c1c1c" textLength="78.4" lengthAdjust="spacingAndGlyphs" >СПЕЦИФИКАЦИЯ</text>
<text x="554.65" y="335.63" font-size="9.3" font-weight="bold" text-anchor="middle" fill="#1c1c1c" textLength="67.3" lengthAdjust="spacingAndGlyphs" >Наименование</text>
<text x="638.75" y="335.63" font-size="9.3" font-weight="bold" text-anchor="middle" fill="#1c1c1c" textLength="29.1" lengthAdjust="spacingAndGlyphs" >В (мм)</text>
<text x="677.4" y="335.63" font-size="9.3" font-weight="bold" text-anchor="middle" fill="#1c1c1c" textLength="32" lengthAdjust="spacingAndGlyphs" >Ш (мм)</text>
<text x="715.35" y="335.63" font-size="9.3" font-weight="bold" text-anchor="middle" fill="#1c1c1c" textLength="29.5" lengthAdjust="spacingAndGlyphs" >Д (мм)</text>
<text x="755.05" y="335.63" font-size="9.3" font-weight="bold" text-anchor="middle" fill="#1c1c1c" textLength="31.5" lengthAdjust="spacingAndGlyphs" >Кол-во</text>
<text x="496.3" y="347.56" font-size="9.8" font-weight="normal" text-anchor="start" fill="#1c1c1c" textLength="109.2" lengthAdjust="spacingAndGlyphs" >Д1 = Доска хвоя 1-2 сорт</text>
<text x="638.75" y="347.56" font-size="9.8" font-weight="normal" text-anchor="middle" fill="#1c1c1c" textLength="14.85" lengthAdjust="spacingAndGlyphs" >150</text>
<text x="677.4" y="347.56" font-size="9.8" font-weight="normal" text-anchor="middle" fill="#1c1c1c" textLength="9.9" lengthAdjust="spacingAndGlyphs" >50</text>
<text x="716.3" y="347.56" font-size="9.8" font-weight="normal" text-anchor="middle" fill="#1c1c1c" textLength="19.8" lengthAdjust="spacingAndGlyphs" >4275</text>
<text x="754.6" y="347.56" font-size="9.8" font-weight="normal" text-anchor="middle" fill="#1c1c1c" textLength="4.95" lengthAdjust="spacingAndGlyphs" >1</text>
<text x="496.3" y="358.99" font-size="9.8" font-weight="normal" text-anchor="start" fill="#1c1c1c" textLength="109.2" lengthAdjust="spacingAndGlyphs" >Д2 = Доска хвоя 1-2 сорт</text>
<text x="638.75" y="358.99" font-size="9.8" font-weight="normal" text-anchor="middle" fill="#1c1c1c" textLength="14.85" lengthAdjust="spacingAndGlyphs" >150</text>
<text x="677.4" y="358.99" font-size="9.8" font-weight="normal" text-anchor="middle" fill="#1c1c1c" textLength="9.9" lengthAdjust="spacingAndGlyphs" >50</text>
<text x="716.3" y="358.99" font-size="9.8" font-weight="normal" text-anchor="middle" fill="#1c1c1c" textLength="19.8" lengthAdjust="spacingAndGlyphs" >2475</text>
<text x="754.6" y="358.99" font-size="9.8" font-weight="normal" text-anchor="middle" fill="#1c1c1c" textLength="4.95" lengthAdjust="spacingAndGlyphs" >1</text>
<text x="496.3" y="370.42" font-size="9.8" font-weight="normal" text-anchor="start" fill="#1c1c1c" textLength="109.2" lengthAdjust="spacingAndGlyphs" >Д3 = Доска хвоя 1-2 сорт</text>
<text x="638.75" y="370.42" font-size="9.8" font-weight="normal" text-anchor="middle" fill="#1c1c1c" textLength="14.85" lengthAdjust="spacingAndGlyphs" >150</text>
<text x="677.4" y="370.42" font-size="9.8" font-weight="normal" text-anchor="middle" fill="#1c1c1c" textLength="9.9" lengthAdjust="spacingAndGlyphs" >50</text>
<text x="716.3" y="370.42" font-size="9.8" font-weight="normal" text-anchor="middle" fill="#1c1c1c" textLength="19.8" lengthAdjust="spacingAndGlyphs" >4935</text>
<text x="754.6" y="370.42" font-size="9.8" font-weight="normal" text-anchor="middle" fill="#1c1c1c" textLength="4.95" lengthAdjust="spacingAndGlyphs" >1</text>
<text x="496.3" y="381.85" font-size="9.8" font-weight="normal" text-anchor="start" fill="#1c1c1c" textLength="109.2" lengthAdjust="spacingAndGlyphs" >Д4 = Доска хвоя 1-2 сорт</text>
<text x="638.75" y="381.85" font-size="9.8" font-weight="normal" text-anchor="middle" fill="#1c1c1c" textLength="14.85" lengthAdjust="spacingAndGlyphs" >150</text>
<text x="677.4" y="381.85" font-size="9.8" font-weight="normal" text-anchor="middle" fill="#1c1c1c" textLength="9.9" lengthAdjust="spacingAndGlyphs" >50</text>
<text x="716.3" y="381.85" font-size="9.8" font-weight="normal" text-anchor="middle" fill="#1c1c1c" textLength="19.8" lengthAdjust="spacingAndGlyphs" >1815</text>
<text x="754.6" y="381.85" font-size="9.8" font-weight="normal" text-anchor="middle" fill="#1c1c1c" textLength="4.95" lengthAdjust="spacingAndGlyphs" >1</text>
<text x="496.3" y="393.28" font-size="9.8" font-weight="normal" text-anchor="start" fill="#1c1c1c" textLength="109.2" lengthAdjust="spacingAndGlyphs" >Д5 = Доска хвоя 1-2 сорт</text>
<text x="638.75" y="393.28" font-size="9.8" font-weight="normal" text-anchor="middle" fill="#1c1c1c" textLength="14.85" lengthAdjust="spacingAndGlyphs" >150</text>
<text x="677.4" y="393.28" font-size="9.8" font-weight="normal" text-anchor="middle" fill="#1c1c1c" textLength="9.9" lengthAdjust="spacingAndGlyphs" >50</text>
<text x="716.3" y="393.28" font-size="9.8" font-weight="normal" text-anchor="middle" fill="#1c1c1c" textLength="19.8" lengthAdjust="spacingAndGlyphs" >1000</text>
<text x="754.6" y="393.28" font-size="9.8" font-weight="normal" text-anchor="middle" fill="#1c1c1c" textLength="4.95" lengthAdjust="spacingAndGlyphs" >1</text>
<text x="496.3" y="404.71" font-size="9.8" font-weight="normal" text-anchor="start" fill="#1c1c1c" textLength="109.2" lengthAdjust="spacingAndGlyphs" >Д6 = Доска хвоя 1-2 сорт</text>
<text x="638.75" y="404.71" font-size="9.8" font-weight="normal" text-anchor="middle" fill="#1c1c1c" textLength="14.85" lengthAdjust="spacingAndGlyphs" >150</text>
<text x="677.4" y="404.71" font-size="9.8" font-weight="normal" text-anchor="middle" fill="#1c1c1c" textLength="9.9" lengthAdjust="spacingAndGlyphs" >50</text>
<text x="716.3" y="404.71" font-size="9.8" font-weight="normal" text-anchor="middle" fill="#1c1c1c" textLength="19.8" lengthAdjust="spacingAndGlyphs" >1990</text>
<text x="754.6" y="404.71" font-size="9.8" font-weight="normal" text-anchor="middle" fill="#1c1c1c" textLength="4.95" lengthAdjust="spacingAndGlyphs" >1</text>
<text x="496.3" y="416.14" font-size="9.8" font-weight="normal" text-anchor="start" fill="#1c1c1c" textLength="109.2" lengthAdjust="spacingAndGlyphs" >Д7 = Доска хвоя 1-2 сорт</text>
<text x="638.75" y="416.14" font-size="9.8" font-weight="normal" text-anchor="middle" fill="#1c1c1c" textLength="14.85" lengthAdjust="spacingAndGlyphs" >150</text>
<text x="677.4" y="416.14" font-size="9.8" font-weight="normal" text-anchor="middle" fill="#1c1c1c" textLength="9.9" lengthAdjust="spacingAndGlyphs" >50</text>
<text x="716.3" y="416.14" font-size="9.8" font-weight="normal" text-anchor="middle" fill="#1c1c1c" textLength="19.8" lengthAdjust="spacingAndGlyphs" >1890</text>
<text x="754.6" y="416.14" font-size="9.8" font-weight="normal" text-anchor="middle" fill="#1c1c1c" textLength="4.95" lengthAdjust="spacingAndGlyphs" >1</text>
<text x="496.3" y="427.57" font-size="9.8" font-weight="normal" text-anchor="start" fill="#1c1c1c" textLength="113.5" lengthAdjust="spacingAndGlyphs" >Р1 = Ригель хвоя 1-2 сорт</text>
<text x="638.75" y="427.57" font-size="9.8" font-weight="normal" text-anchor="middle" fill="#1c1c1c" textLength="14.85" lengthAdjust="spacingAndGlyphs" >150</text>
<text x="677.4" y="427.57" font-size="9.8" font-weight="normal" text-anchor="middle" fill="#1c1c1c" textLength="9.9" lengthAdjust="spacingAndGlyphs" >50</text>
<text x="716.3" y="427.57" font-size="9.8" font-weight="normal" text-anchor="middle" fill="#1c1c1c" textLength="19.8" lengthAdjust="spacingAndGlyphs" >1000</text>
<text x="754.6" y="427.57" font-size="9.8" font-weight="normal" text-anchor="middle" fill="#1c1c1c" textLength="4.95" lengthAdjust="spacingAndGlyphs" >1</text>
<text x="496.3" y="439" font-size="9.8" font-weight="normal" text-anchor="start" fill="#1c1c1c" textLength="113.5" lengthAdjust="spacingAndGlyphs" >Р2 = Ригель хвоя 1-2 сорт</text>
<text x="638.75" y="439" font-size="9.8" font-weight="normal" text-anchor="middle" fill="#1c1c1c" textLength="14.85" lengthAdjust="spacingAndGlyphs" >150</text>
<text x="677.4" y="439" font-size="9.8" font-weight="normal" text-anchor="middle" fill="#1c1c1c" textLength="9.9" lengthAdjust="spacingAndGlyphs" >50</text>
<text x="716.3" y="439" font-size="9.8" font-weight="normal" text-anchor="middle" fill="#1c1c1c" textLength="19.8" lengthAdjust="spacingAndGlyphs" >1990</text>
<text x="754.6" y="439" font-size="9.8" font-weight="normal" text-anchor="middle" fill="#1c1c1c" textLength="4.95" lengthAdjust="spacingAndGlyphs" >1</text>
<text x="496.3" y="450.43" font-size="9.8" font-weight="normal" text-anchor="start" fill="#1c1c1c" textLength="109.2" lengthAdjust="spacingAndGlyphs" >С1 = Доска хвоя 1-2 сорт</text>
<text x="638.75" y="450.43" font-size="9.8" font-weight="normal" text-anchor="middle" fill="#1c1c1c" textLength="14.85" lengthAdjust="spacingAndGlyphs" >150</text>
<text x="677.4" y="450.43" font-size="9.8" font-weight="normal" text-anchor="middle" fill="#1c1c1c" textLength="9.9" lengthAdjust="spacingAndGlyphs" >50</text>
<text x="716.3" y="450.43" font-size="9.8" font-weight="normal" text-anchor="middle" fill="#1c1c1c" textLength="19.8" lengthAdjust="spacingAndGlyphs" >2550</text>
<text x="754.6" y="450.43" font-size="9.8" font-weight="normal" text-anchor="middle" fill="#1c1c1c" textLength="9.9" lengthAdjust="spacingAndGlyphs" >11</text>
<text x="496.3" y="461.86" font-size="9.8" font-weight="normal" text-anchor="start" fill="#1c1c1c" textLength="109.2" lengthAdjust="spacingAndGlyphs" >С2 = Доска хвоя 1-2 сорт</text>
<text x="638.75" y="461.86" font-size="9.8" font-weight="normal" text-anchor="middle" fill="#1c1c1c" textLength="14.85" lengthAdjust="spacingAndGlyphs" >150</text>
<text x="677.4" y="461.86" font-size="9.8" font-weight="normal" text-anchor="middle" fill="#1c1c1c" textLength="9.9" lengthAdjust="spacingAndGlyphs" >50</text>
<text x="716.3" y="461.86" font-size="9.8" font-weight="normal" text-anchor="middle" fill="#1c1c1c" textLength="19.8" lengthAdjust="spacingAndGlyphs" >2100</text>
<text x="754.6" y="461.86" font-size="9.8" font-weight="normal" text-anchor="middle" fill="#1c1c1c" textLength="4.95" lengthAdjust="spacingAndGlyphs" >2</text>
<text x="496.3" y="473.29" font-size="9.8" font-weight="normal" text-anchor="start" fill="#1c1c1c" textLength="109.2" lengthAdjust="spacingAndGlyphs" >С3 = Доска хвоя 1-2 сорт</text>
<text x="638.75" y="473.29" font-size="9.8" font-weight="normal" text-anchor="middle" fill="#1c1c1c" textLength="14.85" lengthAdjust="spacingAndGlyphs" >150</text>
<text x="677.4" y="473.29" font-size="9.8" font-weight="normal" text-anchor="middle" fill="#1c1c1c" textLength="9.9" lengthAdjust="spacingAndGlyphs" >50</text>
<text x="716.3" y="473.29" font-size="9.8" font-weight="normal" text-anchor="middle" fill="#1c1c1c" textLength="14.85" lengthAdjust="spacingAndGlyphs" >400</text>
<text x="754.6" y="473.29" font-size="9.8" font-weight="normal" text-anchor="middle" fill="#1c1c1c" textLength="4.95" lengthAdjust="spacingAndGlyphs" >2</text>
<text x="496.3" y="484.72" font-size="9.8" font-weight="normal" text-anchor="start" fill="#1c1c1c" textLength="109.2" lengthAdjust="spacingAndGlyphs" >С4 = Доска хвоя 1-2 сорт</text>
<text x="638.75" y="484.72" font-size="9.8" font-weight="normal" text-anchor="middle" fill="#1c1c1c" textLength="14.85" lengthAdjust="spacingAndGlyphs" >150</text>
<text x="677.4" y="484.72" font-size="9.8" font-weight="normal" text-anchor="middle" fill="#1c1c1c" textLength="9.9" lengthAdjust="spacingAndGlyphs" >50</text>
<text x="716.3" y="484.72" font-size="9.8" font-weight="normal" text-anchor="middle" fill="#1c1c1c" textLength="19.8" lengthAdjust="spacingAndGlyphs" >2250</text>
<text x="754.6" y="484.72" font-size="9.8" font-weight="normal" text-anchor="middle" fill="#1c1c1c" textLength="4.95" lengthAdjust="spacingAndGlyphs" >2</text>
<text x="496.3" y="496.15" font-size="9.8" font-weight="normal" text-anchor="start" fill="#1c1c1c" textLength="109.2" lengthAdjust="spacingAndGlyphs" >С5 = Доска хвоя 1-2 сорт</text>
<text x="638.75" y="496.15" font-size="9.8" font-weight="normal" text-anchor="middle" fill="#1c1c1c" textLength="14.85" lengthAdjust="spacingAndGlyphs" >150</text>
<text x="677.4" y="496.15" font-size="9.8" font-weight="normal" text-anchor="middle" fill="#1c1c1c" textLength="9.9" lengthAdjust="spacingAndGlyphs" >50</text>
<text x="716.3" y="496.15" font-size="9.8" font-weight="normal" text-anchor="middle" fill="#1c1c1c" textLength="14.85" lengthAdjust="spacingAndGlyphs" >750</text>
<text x="754.6" y="496.15" font-size="9.8" font-weight="normal" text-anchor="middle" fill="#1c1c1c" textLength="4.95" lengthAdjust="spacingAndGlyphs" >3</text>
<text x="496.3" y="507.58" font-size="9.8" font-weight="normal" text-anchor="start" fill="#1c1c1c" textLength="109.2" lengthAdjust="spacingAndGlyphs" >С6 = Доска хвоя 1-2 сорт</text>
<text x="638.75" y="507.58" font-size="9.8" font-weight="normal" text-anchor="middle" fill="#1c1c1c" textLength="14.85" lengthAdjust="spacingAndGlyphs" >150</text>
<text x="677.4" y="507.58" font-size="9.8" font-weight="normal" text-anchor="middle" fill="#1c1c1c" textLength="9.9" lengthAdjust="spacingAndGlyphs" >50</text>
<text x="716.3" y="507.58" font-size="9.8" font-weight="normal" text-anchor="middle" fill="#1c1c1c" textLength="14.85" lengthAdjust="spacingAndGlyphs" >250</text>
<text x="754.6" y="507.58" font-size="9.8" font-weight="normal" text-anchor="middle" fill="#1c1c1c" textLength="4.95" lengthAdjust="spacingAndGlyphs" >3</text>
<text x="496.3" y="519.01" font-size="9.8" font-weight="normal" text-anchor="start" fill="#1c1c1c" textLength="116.7" lengthAdjust="spacingAndGlyphs" >У1 = Укосина хвоя 1-2 сорт</text>
<text x="638.75" y="519.01" font-size="9.8" font-weight="normal" text-anchor="middle" fill="#1c1c1c" textLength="14.85" lengthAdjust="spacingAndGlyphs" >100</text>
<text x="677.4" y="519.01" font-size="9.8" font-weight="normal" text-anchor="middle" fill="#1c1c1c" textLength="9.9" lengthAdjust="spacingAndGlyphs" >25</text>
<text x="716.3" y="519.01" font-size="9.8" font-weight="normal" text-anchor="middle" fill="#1c1c1c" textLength="19.8" lengthAdjust="spacingAndGlyphs" >2942</text>
<text x="754.6" y="519.01" font-size="9.8" font-weight="normal" text-anchor="middle" fill="#1c1c1c" textLength="4.95" lengthAdjust="spacingAndGlyphs" >1</text>
<text x="496.3" y="530.44" font-size="9.8" font-weight="normal" text-anchor="start" fill="#1c1c1c" textLength="116.7" lengthAdjust="spacingAndGlyphs" >У2 = Укосина хвоя 1-2 сорт</text>
<text x="638.75" y="530.44" font-size="9.8" font-weight="normal" text-anchor="middle" fill="#1c1c1c" textLength="14.85" lengthAdjust="spacingAndGlyphs" >100</text>
<text x="677.4" y="530.44" font-size="9.8" font-weight="normal" text-anchor="middle" fill="#1c1c1c" textLength="9.9" lengthAdjust="spacingAndGlyphs" >25</text>
<text x="716.3" y="530.44" font-size="9.8" font-weight="normal" text-anchor="middle" fill="#1c1c1c" textLength="19.8" lengthAdjust="spacingAndGlyphs" >2959</text>
<text x="754.6" y="530.44" font-size="9.8" font-weight="normal" text-anchor="middle" fill="#1c1c1c" textLength="4.95" lengthAdjust="spacingAndGlyphs" >1</text>
<polygon points="44.7,408.6 287.4,317.2 294.3,320.8 294.6,324.5 287.4,326.24 275.26,330.62 263.13,334.99 251,339.37 238.86,343.75 226.73,348.13 214.59,352.51 202.45,356.88 190.32,361.26 178.19,365.64 166.05,370.02 153.91,374.4 141.78,378.77 129.64,383.15 117.51,387.53 105.38,391.91 93.24,396.29 81.1,400.67 68.97,405.04 56.84,409.42 44.7,413.8" fill="#8a7c2c" stroke="#1c1804" stroke-width="0.95" stroke-linejoin="round" />
<polygon points="44.7,408.6 287.4,317.2 294.3,320.8 293,321.9 287.4,319.89 275.26,324.39 263.13,328.9 251,333.41 238.86,337.91 226.73,342.42 214.59,346.92 202.45,351.43 190.32,355.93 178.19,360.44 166.05,364.94 153.91,369.45 141.78,373.96 129.64,378.46 117.51,382.97 105.38,387.47 93.24,391.98 81.1,396.48 68.97,400.99 56.84,405.49 44.7,410" fill="#ab9d45" stroke="none" stroke-width="0" stroke-linejoin="round" />
<polyline points="44.7,408.6 287.4,317.2 294.3,320.8" fill="none" stroke="#1c1804" stroke-width="0.9"/>
<line x1="46" y1="409.61" x2="286" y2="320.4" stroke="#3a330c" stroke-width="0.6"/>
<polygon points="52.4,411.5 56.6,410.7 77.4,520.5 73.2,520.5" fill="#978935" stroke="#1c1804" stroke-width="0.95" stroke-linejoin="round" />
<polygon points="186.4,362 192.6,362 142.8,521.8 137,521.8" fill="#978935" stroke="#1c1804" stroke-width="0.95" stroke-linejoin="round" />
<polygon points="74.5,404.8 131.5,387.2 131.5,394 74.5,412" fill="#8f812f" stroke="#1c1804" stroke-width="0.95" stroke-linejoin="round" />
<polygon points="186,376 240,359.4 240,368.5 186,382" fill="#8f812f" stroke="#1c1804" stroke-width="0.95" stroke-linejoin="round" />
<polygon points="44.2,412.99 52.6,409.83 49.6,521.35 38.4,521.11" fill="#978935" stroke="#1c1804" stroke-width="0.95" stroke-linejoin="round" />
<polygon points="44.65,413.39 47.3,412.22 41.6,520.78 38.85,520.71" fill="#7a6e25" stroke="none" stroke-width="0" stroke-linejoin="round" />
<line x1="47.3" y1="411.82" x2="41.6" y2="521.18" stroke="#3a330c" stroke-width="0.6"/>
<polygon points="61,406.67 68.5,403.84 63.6,521.66 55.4,521.48" fill="#978935" stroke="#1c1804" stroke-width="0.95" stroke-linejoin="round" />
<polygon points="61.45,407.07 62.8,406.39 57.4,521.13 55.85,521.08" fill="#7a6e25" stroke="none" stroke-width="0" stroke-linejoin="round" />
<line x1="62.8" y1="405.99" x2="57.4" y2="521.53" stroke="#3a330c" stroke-width="0.6"/>
<polygon points="74.8,401.47 83.4,398.24 79.6,522.01 70.8,521.82" fill="#978935" stroke="#1c1804" stroke-width="0.95" stroke-linejoin="round" />
<polygon points="75.25,401.87 76.8,401.12 72.8,521.46 71.25,521.42" fill="#7a6e25" stroke="none" stroke-width="0" stroke-linejoin="round" />
<line x1="76.8" y1="400.72" x2="72.8" y2="521.86" stroke="#3a330c" stroke-width="0.6"/>
<polygon points="130.6,380.48 140.6,376.71 139.2,523.32 128.1,523.08" fill="#978935" stroke="#1c1804" stroke-width="0.95" stroke-linejoin="round" />
<polygon points="131.05,380.88 132.8,380.05 130.4,522.73 128.55,522.68" fill="#7a6e25" stroke="none" stroke-width="0" stroke-linejoin="round" />
<line x1="132.8" y1="379.65" x2="130.4" y2="523.13" stroke="#3a330c" stroke-width="0.6"/>
<polygon points="155.3,371.18 163.9,367.95 163.3,523.85 154,523.65" fill="#978935" stroke="#1c1804" stroke-width="0.95" stroke-linejoin="round" />
<polygon points="155.75,371.58 157.4,370.79 156,523.29 154.45,523.25" fill="#7a6e25" stroke="none" stroke-width="0" stroke-linejoin="round" />
<line x1="157.4" y1="370.39" x2="156" y2="523.69" stroke="#3a330c" stroke-width="0.6"/>
<polygon points="174.4,364 183.9,360.42 184.3,524.32 174.4,524.1" fill="#978935" stroke="#1c1804" stroke-width="0.95" stroke-linejoin="round" />
<polygon points="174.85,364.4 176.6,363.57 176.6,523.75 174.85,523.7" fill="#7a6e25" stroke="none" stroke-width="0" stroke-linejoin="round" />
<line x1="176.5" y1="363.17" x2="176.5" y2="524.15" stroke="#3a330c" stroke-width="0.6"/>
<polygon points="186.1,359.59 196.7,355.6 198.5,524.63 186.1,524.36" fill="#978935" stroke="#1c1804" stroke-width="0.95" stroke-linejoin="round" />
<polygon points="186.55,359.99 188.6,359.05 188.6,524.01 186.55,523.96" fill="#7a6e25" stroke="none" stroke-width="0" stroke-linejoin="round" />
<line x1="188.5" y1="358.65" x2="188.5" y2="524.41" stroke="#3a330c" stroke-width="0.6"/>
<polygon points="234.3,341.46 247.2,336.6 252.7,525.82 239.1,525.52" fill="#978935" stroke="#1c1804" stroke-width="0.95" stroke-linejoin="round" />
<polygon points="234.75,341.86 237.8,340.54 242.6,525.2 239.55,525.12" fill="#7a6e25" stroke="none" stroke-width="0" stroke-linejoin="round" />
<line x1="237.8" y1="340.14" x2="242.6" y2="525.6" stroke="#3a330c" stroke-width="0.6"/>
<polygon points="274.7,325.6 294.6,321.9 306.4,527 284.1,526.51" fill="#978935" stroke="#1c1804" stroke-width="0.95" stroke-linejoin="round" />
<polygon points="275.15,326 276.6,325.65 286,526.15 284.55,526.11" fill="#7a6e25" stroke="none" stroke-width="0" stroke-linejoin="round" />
<line x1="276.6" y1="325.25" x2="286" y2="526.55" stroke="#3a330c" stroke-width="0.6"/>
<polygon points="274.7,325.6 284.6,322.3 284.6,323 274.7,326.5" fill="#978935" stroke="none" stroke-width="0" stroke-linejoin="round" />
<line x1="278.6" y1="325.37" x2="286.6" y2="525" stroke="#3a330c" stroke-width="0.6"/>
<line x1="288.5" y1="323.53" x2="297.1" y2="525" stroke="#3a330c" stroke-width="0.6"/>
<line x1="285.3" y1="323.93" x2="295.5" y2="525.5" stroke="#1c1804" stroke-width="0.9"/>
<polygon points="92.6,394.78 99,392.37 99,404.46 92.6,404.46" fill="#978935" stroke="#1c1804" stroke-width="0.95" stroke-linejoin="round" />
<polygon points="93.05,395.18 94.4,394.5 94.4,404.06 93.05,404.06" fill="#7a6e25" stroke="none" stroke-width="0" stroke-linejoin="round" />
<line x1="94.5" y1="394.1" x2="94.5" y2="404.46" stroke="#3a330c" stroke-width="0.6"/>
<polygon points="101.8,391.31 108.6,388.76 108.6,401.38 101.8,401.38" fill="#978935" stroke="#1c1804" stroke-width="0.95" stroke-linejoin="round" />
<polygon points="102.25,391.71 103.6,391.04 103.6,400.98 102.25,400.98" fill="#7a6e25" stroke="none" stroke-width="0" stroke-linejoin="round" />
<line x1="103.5" y1="390.64" x2="103.5" y2="401.38" stroke="#3a330c" stroke-width="0.6"/>
<polygon points="110.9,387.89 117.6,385.37 117.6,398.4 110.9,398.4" fill="#978935" stroke="#1c1804" stroke-width="0.95" stroke-linejoin="round" />
<polygon points="111.35,388.29 112.7,387.61 112.7,398 111.35,398" fill="#7a6e25" stroke="none" stroke-width="0" stroke-linejoin="round" />
<line x1="112.5" y1="387.21" x2="112.5" y2="398.4" stroke="#3a330c" stroke-width="0.6"/>
<polygon points="209.8,350.68 219.4,347.06 219.4,372.55 209.8,372.55" fill="#978935" stroke="#1c1804" stroke-width="0.95" stroke-linejoin="round" />
<polygon points="210.25,351.08 212,350.25 212,372.15 210.25,372.15" fill="#7a6e25" stroke="none" stroke-width="0" stroke-linejoin="round" />
<line x1="212.5" y1="349.85" x2="212.5" y2="372.55" stroke="#3a330c" stroke-width="0.6"/>
<polygon points="88.1,481.71 96.7,481.71 96.4,522.38 87.8,522.19" fill="#978935" stroke="#1c1804" stroke-width="0.95" stroke-linejoin="round" />
<polygon points="88.55,482.11 90.1,482.11 89.9,521.84 88.25,521.79" fill="#7a6e25" stroke="none" stroke-width="0" stroke-linejoin="round" />
<line x1="90.1" y1="481.71" x2="89.9" y2="522.24" stroke="#3a330c" stroke-width="0.6"/>
<polygon points="97.3,480.75 106.4,480.75 106.1,522.6 97,522.4" fill="#978935" stroke="#1c1804" stroke-width="0.95" stroke-linejoin="round" />
<polygon points="97.75,481.15 99.3,481.15 99.1,522.04 97.45,522" fill="#7a6e25" stroke="none" stroke-width="0" stroke-linejoin="round" />
<line x1="99.3" y1="480.75" x2="99.1" y2="522.44" stroke="#3a330c" stroke-width="0.6"/>
<polygon points="107.2,479.73 116.5,479.73 116.2,522.82 106.9,522.61" fill="#978935" stroke="#1c1804" stroke-width="0.95" stroke-linejoin="round" />
<polygon points="107.65,480.13 109.2,480.13 109,522.26 107.35,522.21" fill="#7a6e25" stroke="none" stroke-width="0" stroke-linejoin="round" />
<line x1="109.2" y1="479.73" x2="109" y2="522.66" stroke="#3a330c" stroke-width="0.6"/>
<polygon points="75.3,410.9 131.2,392.6 131.2,396.5 75.3,413.6" fill="#978935" stroke="#1c1804" stroke-width="0.95" stroke-linejoin="round" />
<line x1="75.6" y1="412" x2="130.9" y2="393.8" stroke="#c4b55a" stroke-width="0.5"/>
<polygon points="187.5,380.6 237.4,366.2 237.4,371.9 187.5,385.6" fill="#978935" stroke="#1c1804" stroke-width="0.95" stroke-linejoin="round" />
<polygon points="187.9,381 237,366.8 237,368 187.9,382.4" fill="#ab9d45" stroke="none" stroke-width="0" stroke-linejoin="round" />
<polygon points="73.9,481.2 128.8,475 128.8,478.7 73.9,484.4" fill="#978935" stroke="#1c1804" stroke-width="0.95" stroke-linejoin="round" />
<line x1="74.2" y1="482.3" x2="128.5" y2="476.1" stroke="#c4b55a" stroke-width="0.5"/>
<polygon points="38,520.3 306.4,526.2 306.4,530.5 38,522.8" fill="#978935" stroke="#1c1804" stroke-width="0.95" stroke-linejoin="round" />
<line x1="38.5" y1="521.3" x2="306" y2="527.3" stroke="#c4b55a" stroke-width="0.5"/>
</svg></body></html>
